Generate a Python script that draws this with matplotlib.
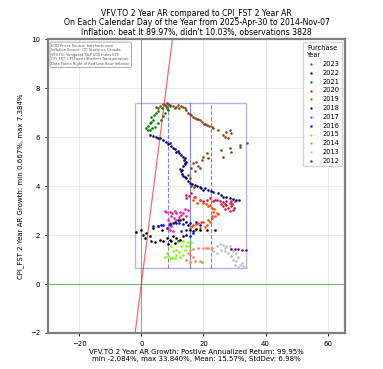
import matplotlib
matplotlib.use("Agg")
import matplotlib.pyplot as plt

# (x, y) points per purchase year
years = ["2023", "2022", "2021", "2020", "2019", "2018",
         "2017", "2016", "2015", "2014", "2013", "2012"]
colors = ["crimson", "navy", "green", "saddlebrown", "orangered", "black",
          "deeppink", "blue", "lawngreen", "coral", "silver", "purple"]

pts_2023 = [(14.5, 3.64), (16.1, 3.71), (14.5, 3.5), (17.2, 3.57), (18.8, 3.44),
            (19.9, 3.37), (22.0, 3.5), (23.7, 3.44), (25.3, 3.37), (26.3, 3.33),
            (27.4, 3.37), (28.5, 3.3), (29.0, 3.17), (28.0, 3.1), (29.6, 3.03),
            (28.5, 3.0), (30.1, 3.37), (27.4, 3.23), (26.3, 3.17), (24.5, 3.45),
            (25.8, 3.25), (29.3, 3.25), (28.8, 3.4), (27.0, 3.05), (15.2, 3.6),
            (21.0, 3.42), (23.0, 3.38), (26.8, 3.28), (29.9, 3.12)]
pts_2022 = [(2.7, 6.09), (3.8, 6.05), (4.8, 6.02), (6.0, 5.95), (7.0, 5.88),
            (8.0, 5.8), (9.1, 5.75), (9.6, 5.64), (10.2, 5.54), (11.3, 5.41),
            (12.1, 5.35), (12.9, 5.27), (14.0, 5.14), (14.5, 5.0), (13.9, 4.9),
            (13.4, 4.8), (12.9, 4.6), (13.1, 4.5), (13.4, 4.39), (14.5, 4.32),
            (15.0, 4.22), (15.6, 4.12), (17.2, 4.05), (18.8, 3.98), (19.9, 3.85),
            (21.5, 3.85), (23.1, 3.74), (24.7, 3.71), (26.3, 3.57), (28.5, 3.51),
            (30.6, 3.44), (31.5, 3.44), (20.5, 3.9), (22.3, 3.8), (16.4, 4.08),
            (12.6, 4.7), (13.7, 5.05), (5.4, 5.98), (8.6, 5.7), (10.8, 5.5),
            (11.8, 5.45), (13.5, 5.2), (14.2, 4.95), (13.2, 4.65), (14.0, 4.35),
            (18.0, 4.0), (19.3, 3.93), (25.5, 3.62), (27.4, 3.55), (29.6, 3.47)]
pts_2021 = [(9.1, 7.27), (8.3, 7.2), (6.5, 7.17), (5.5, 7.05), (4.8, 6.97),
            (3.2, 6.83), (3.8, 6.7), (2.7, 6.56), (2.1, 6.45), (1.6, 6.36),
            (2.7, 6.29), (3.5, 6.35), (4.3, 6.43), (5.4, 6.56), (6.2, 6.7),
            (7.0, 6.85), (7.6, 7.0), (8.6, 7.1), (4.2, 6.9), (3.0, 6.62),
            (7.8, 7.25), (2.3, 6.3)]
pts_2020 = [(4.6, 7.21), (5.4, 7.17), (6.1, 7.27), (7.0, 7.35), (8.1, 7.38),
            (9.1, 7.31), (10.2, 7.27), (11.3, 7.24), (12.9, 7.27), (14.0, 7.17),
            (15.0, 7.0), (16.1, 6.9), (17.2, 6.77), (18.3, 6.73), (19.4, 6.63),
            (21.0, 6.49), (22.6, 6.4), (23.1, 6.36), (24.7, 6.29), (26.3, 6.09),
            (27.4, 6.22), (28.5, 6.29), (29.0, 6.15), (28.0, 5.95), (25.8, 5.48),
            (26.3, 5.2), (28.5, 5.54), (29.0, 5.4), (31.9, 5.68), (31.9, 5.6),
            (34.1, 5.75), (16.7, 4.93), (17.7, 5.0), (18.3, 4.8), (18.8, 4.73),
            (19.9, 5.2), (19.4, 5.07), (21.0, 5.34), (21.5, 5.14), (16.1, 4.73),
            (17.2, 4.6), (15.0, 4.46), (15.6, 4.32), (16.0, 4.0), (17.0, 3.95),
            (11.8, 7.3), (13.5, 7.22), (20.2, 6.55), (7.5, 7.3), (8.7, 7.34),
            (10.7, 7.2), (12.2, 7.2), (14.5, 7.1), (15.6, 6.95), (16.7, 6.82),
            (17.8, 6.72), (18.9, 6.68), (20.6, 6.52), (21.8, 6.45), (27.0, 6.0)]
pts_2019 = [(16.7, 3.44), (18.8, 3.44), (19.9, 3.3), (22.0, 3.23), (22.6, 3.1),
            (23.1, 2.96), (24.2, 2.89), (23.7, 2.76), (22.6, 2.69), (21.5, 2.62),
            (19.9, 2.55), (18.3, 2.49), (16.7, 2.42), (15.6, 2.28), (17.2, 2.21),
            (18.8, 2.28), (20.4, 2.32), (21.0, 2.42), (22.0, 2.55), (22.6, 2.76),
            (21.5, 3.17), (18.0, 3.3), (17.0, 3.55), (24.8, 2.85), (23.4, 3.05),
            (20.8, 3.28), (19.2, 2.52), (17.5, 2.45), (16.2, 2.35)]
pts_2018 = [(-1.6, 2.11), (0.0, 2.21), (0.5, 2.01), (1.6, 2.08), (1.1, 1.88),
            (2.7, 1.94), (3.8, 2.28), (5.4, 2.35), (6.5, 2.21), (8.1, 2.28),
            (9.1, 2.42), (10.2, 2.49), (11.8, 2.62), (13.4, 2.65), (14.5, 2.55),
            (15.0, 2.42), (15.6, 2.21), (16.7, 2.15), (17.7, 2.24), (18.8, 2.21),
            (21.0, 2.19), (23.7, 2.19), (3.2, 1.74), (4.3, 1.7), (5.9, 1.81),
            (7.0, 1.74), (8.1, 1.88), (9.1, 1.81), (10.2, 1.94), (11.3, 1.88),
            (12.4, 1.81), (13.4, 1.94), (14.5, 2.01), (10.8, 1.67), (8.6, 1.64),
            (12.6, 2.6), (10.9, 2.55), (9.6, 1.75), (11.9, 1.76)]
pts_2017 = [(7.5, 2.99), (9.1, 2.96), (10.8, 3.0), (12.4, 2.96), (14.0, 3.06),
            (15.0, 3.03), (11.3, 2.89), (12.9, 2.83), (9.7, 2.76), (8.6, 2.62),
            (9.1, 2.49), (9.7, 2.35), (9.1, 2.21), (10.2, 2.15), (8.6, 2.28),
            (14.5, 2.76), (11.3, 2.62), (13.5, 2.9), (10.0, 2.9), (8.0, 2.95),
            (12.0, 2.75), (10.4, 2.7)]
pts_2016 = [(3.8, 2.38), (5.4, 2.35), (7.0, 2.42), (9.1, 2.46), (11.3, 2.49),
            (13.4, 2.46), (15.6, 2.51), (17.7, 2.55), (18.8, 2.42), (14.5, 2.19),
            (12.9, 2.15), (16.7, 2.08), (15.6, 1.94), (6.2, 2.4), (12.2, 2.5)]
pts_2015 = [(8.1, 1.26), (7.5, 1.1), (9.1, 1.06), (10.8, 1.06), (12.4, 1.1),
            (13.4, 1.2), (14.0, 1.4), (14.5, 1.54), (15.0, 1.7), (16.1, 1.7),
            (12.9, 1.54), (11.3, 1.4), (10.2, 1.33), (9.7, 1.54), (11.8, 1.7),
            (13.4, 1.74), (11.3, 1.2), (8.5, 1.15), (15.3, 1.55), (9.9, 1.08),
            (12.0, 1.3)]
pts_2014 = [(15.6, 1.4), (16.7, 1.43), (18.3, 1.45), (19.9, 1.47), (21.5, 1.48),
            (22.6, 1.48), (15.6, 1.2), (14.5, 0.99), (15.6, 0.88), (17.2, 0.92),
            (18.8, 0.92), (19.4, 0.88), (16.7, 1.09), (15.0, 1.26), (20.7, 1.46)]
pts_2013 = [(22.6, 1.4), (24.2, 1.54), (25.3, 1.64), (26.3, 1.6), (27.4, 1.54),
            (28.5, 1.56), (29.0, 1.43), (29.6, 1.33), (30.6, 1.26), (31.2, 1.1),
            (30.6, 0.92), (31.7, 0.79), (32.8, 0.72), (33.8, 0.69), (25.8, 1.4),
            (26.9, 1.33), (28.0, 1.26), (29.0, 1.13), (29.6, 0.99), (30.1, 0.79),
            (31.2, 0.69), (24.2, 1.26), (23.1, 1.33), (27.0, 1.45), (32.3, 0.85)]
pts_2012 = [(29.0, 1.43), (30.1, 1.43), (31.2, 1.43), (32.3, 1.4), (33.8, 1.4)]

all_pts = [pts_2023, pts_2022, pts_2021, pts_2020, pts_2019, pts_2018,
           pts_2017, pts_2016, pts_2015, pts_2014, pts_2013, pts_2012]

x_min, x_max, x_mean, x_std = -2.084, 33.840, 15.57, 6.98
y_min, y_max = 0.667, 7.384

title = ("VFV.TO 2 Year AR compared to CPI_FST 2 Year AR\n"
         "On Each Calendar Day of the Year from 2025-Apr-30 to 2014-Nov-07\n"
         "Inflation: beat It 89.97%, didn't 10.03%, observations 3828")
xlabel = ("VFV.TO 2 Year AR Growth: Postive Annualized Return: 99.95%\n"
          "min -2.084%, max 33.840%, Mean: 15.57%, StdDev: 6.98%")
ylabel = "CPI_FST 2 Year AR Growth: min 0.667%, max 7.384%"
note = ("EOD Prices Source: barcharts.com\n"
        "Inflation Source: CPI Statistics Canada\n"
        "VFV.TO: Vanguard S&P 500 Index ETF\n"
        "CPI_FST: CPI Food+Shelter+Transportation\n"
        "Data Points Right of Red Line Beat Inflation")

fig = plt.figure(figsize=(3.83, 3.69), dpi=100)
ax = fig.add_axes([0.125, 0.0976, 0.776, 0.7964])

for year, color, pts in zip(years, colors, all_pts):
    xs = [p[0] for p in pts]
    ys = [p[1] for p in pts]
    ax.scatter(xs, ys, s=3.5, color=color, linewidths=0, label=year, zorder=3)

ax.axhline(0, color="green", alpha=0.5, lw=0.8)
ax.axvline(0, color="green", alpha=0.5, lw=0.8)
ax.axline((0, 0), slope=1, color="red", alpha=0.6, lw=0.9)

# box of min/max with mean and +/- one std dev
ax.add_patch(plt.Rectangle((x_min, y_min), x_max - x_min, y_max - y_min,
                           fill=False, edgecolor="blue", alpha=0.3, lw=1))
ax.plot([x_mean, x_mean], [y_min, y_max], color="blue", alpha=0.5, lw=0.8)
for v in (x_mean - x_std, x_mean + x_std):
    ax.plot([v, v], [y_min, y_max], color="blue", alpha=0.5, lw=0.8, ls="--")

ax.set_xlim(-30.1, 65.6)
ax.set_ylim(-2, 10)
ax.grid(True, color="#e8e8e8", lw=0.6)
ax.set_axisbelow(True)
ax.tick_params(labelsize=5, length=2, width=0.6)
for sp in ax.spines.values():
    sp.set_color("gray")
    sp.set_linewidth(1.6)

ax.set_title(title, fontsize=5.6, pad=3, linespacing=1.1)
ax.set_xlabel(xlabel, fontsize=5, labelpad=2, linespacing=1.1)
ax.set_ylabel(ylabel, fontsize=5, labelpad=4)

ax.text(0.012, 0.985, note, transform=ax.transAxes, fontsize=2.6,
        va="top", ha="left", color="#555555", linespacing=1.2,
        bbox=dict(boxstyle="round,pad=0.4", facecolor="white",
                  edgecolor="gray", alpha=0.8, lw=0.6))

leg = ax.legend(title="Purchase\nYear", loc="upper right", fontsize=4.8,
                title_fontsize=4.8, markerscale=0.9, labelspacing=0.42,
                handletextpad=0.9, handlelength=1.6, borderpad=0.4,
                frameon=True, fancybox=False, edgecolor="#cccccc")

fig.savefig("out.png", dpi=100)
